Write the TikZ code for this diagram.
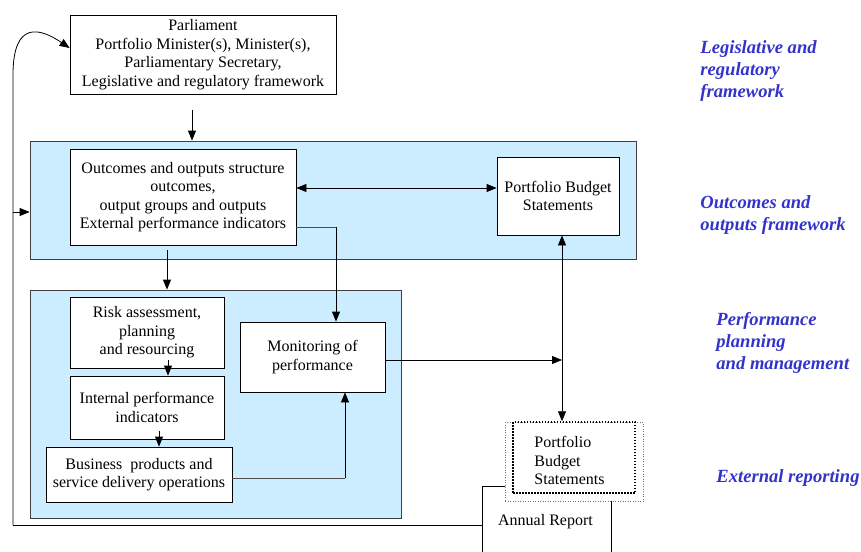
\documentclass[tikz,border=0pt]{standalone}
\usepackage{fontspec}
\setmainfont{Liberation Serif}
\usetikzlibrary{arrows.meta}
\definecolor{panelblue}{RGB}{204,236,255}
\definecolor{tagblue}{RGB}{51,51,204}
\tikzset{
	box/.style={draw, fill=white, align=center, inner sep=0pt, font=\fontsize{16}{18.5}\selectfont},
	panel/.style={draw=black!75, fill=panelblue, inner sep=0pt},
	tag/.style={text=tagblue, anchor=west, align=left, inner sep=0pt, font=\fontsize{18.6}{22}\selectfont\bfseries\itshape},
	arr/.style={-{Triangle[length=10pt,width=8pt]}},
	dblarr/.style={{Triangle[length=10pt,width=8pt]}-{Triangle[length=10pt,width=8pt]}},
}
\begin{document}
\begin{tikzpicture}[x=1pt,y=-1pt,line width=0.8pt]
			\useasboundingbox (0,0) rectangle (861,551);
			\clip (0,0) rectangle (861,551);
			
			% Blue panels
			\node[panel, minimum width=606pt, minimum height=118pt] (upper) at (333,200) {};
			\node[panel, minimum width=371pt, minimum height=228pt] (lower) at (215.5,404) {};
			
			% Boxes
			\node[box, minimum width=266pt, minimum height=79pt] (parl) at (203,54.5)
				{Parliament\\Portfolio Minister(s), Minister(s),\\Parliamentary Secretary,\\Legislative and regulatory framework};
			\node[box, minimum width=226pt, minimum height=96pt] (outc) at (183,197)
				{Outcomes and outputs structure\\outcomes,\\output groups and outputs\\External performance indicators};
			\node[box, minimum width=122pt, minimum height=78pt] (pbs) at (558,196)
				{Portfolio Budget\\Statements};
			\node[box, minimum width=154pt, minimum height=71pt] (risk) at (147,332.5)
				{Risk assessment,\\planning\\and resourcing};
			\node[box, minimum width=154pt, minimum height=63pt] (intern) at (147,407.5)
				{Internal performance\\indicators};
			\node[box, minimum width=186pt, minimum height=55pt] (busi) at (139,474.5)
				{Business~ products and\\service delivery operations};
			\node[box, minimum width=145pt, minimum height=70pt] (monit) at (312.5,357)
				{Monitoring of\\performance};
			
			% Annual report and published statements
			\draw (505,486) -- (482,486) -- (482,560);
			\draw (611,501) -- (611,560);
			\node[box, draw=none, fill=none] (annual) at (545.5,522) {Annual Report};
			\node[draw=black!55, line width=0.5pt, dotted, fill=white, minimum width=138pt, minimum height=79pt, inner sep=0pt] (pbsout) at (574,461.5) {};
			\node[draw, line width=1.5pt, dash pattern=on 1.5pt off 1.5pt, minimum width=122pt, minimum height=71pt, inner sep=0pt] (pbsin) at (574,457.5) {};
			\node[box, draw=none, fill=none, align=left, anchor=west] (pbstext) at (534,460.5)
				{Portfolio\\Budget\\Statements};
			
			% Connectors
			\coordinate (p1) at (192,110);
			\draw[arr] (p1) -- (p1 |- upper.north);
			\coordinate (loop) at (13,525);
			\draw (482,525) -- (loop);
			\draw[arr] (loop) -- (13,75) .. controls (13,20) and (40,28) .. ([yshift=6.5pt]parl.west);
			\coordinate (j1) at (13,212);
			\draw[arr] (j1) -- (j1 -| upper.west);
			\draw[dblarr] ([yshift=9pt]outc.east) -- ([yshift=9pt]outc.east -| pbs.west);
			\coordinate (p2) at (167,250);
			\draw[arr] (p2) -- (p2 |- lower.north);
			\coordinate (p3) at (336,227);
			\draw[black!70] ([yshift=-30pt]outc.east) -- (p3);
			\draw[arr] (p3) -- (p3 |- monit.north);
			\coordinate (p4) at (168,360);
			\draw[arr] (p4) -- (p4 |- intern.north);
			\coordinate (p5) at (159,431);
			\draw[arr] (p5) -- (p5 |- busi.north);
			\coordinate (p6) at (345,478);
			\draw[black!70] (busi.east |- p6) -- (p6);
			\draw[arr] (p6) -- (p6 |- monit.south);
			\coordinate (p7) at (562,360);
			\draw[arr] ([yshift=-3pt]monit.east) -- (p7);
			\draw[dblarr] (p7 |- pbs.south) -- (p7 |- pbsin.north);
			
			% Framework labels
			\node[tag] (t1) at (700,71) {Legislative and\\regulatory\\framework};
			\node[tag] (t2) at (700,215) {Outcomes and\\outputs framework};
			\node[tag] (t3) at (716,343) {Performance\\planning\\and management};
			\node[tag] (t4) at (716,478) {External reporting};
		\end{tikzpicture}
\end{document}
